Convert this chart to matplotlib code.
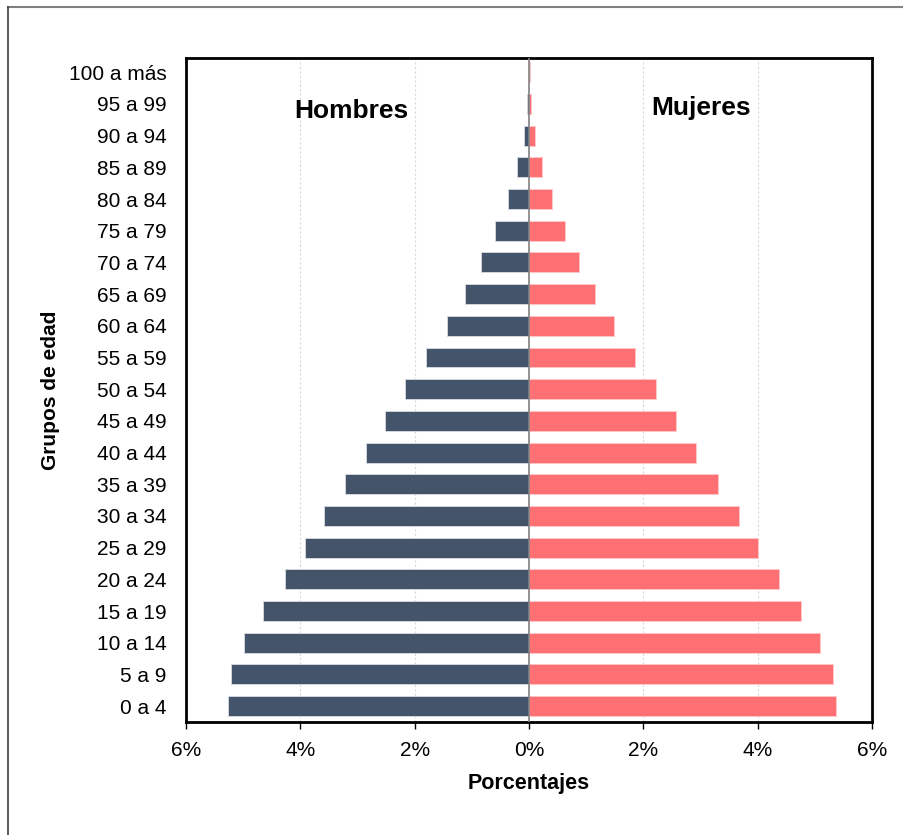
import numpy as np
import matplotlib.pyplot as plt
from matplotlib.lines import Line2D

plt.rcParams['font.family'] = ['Liberation Sans', 'DejaVu Sans']

grupos = ['0 a 4', '5 a 9', '10 a 14', '15 a 19', '20 a 24', '25 a 29', '30 a 34',
          '35 a 39', '40 a 44', '45 a 49', '50 a 54', '55 a 59', '60 a 64', '65 a 69',
          '70 a 74', '75 a 79', '80 a 84', '85 a 89', '90 a 94', '95 a 99', '100 a más']

# porcentajes (%)
hombres = [5.26, 5.21, 4.98, 4.65, 4.27, 3.92, 3.58, 3.22, 2.85, 2.52, 2.17,
           1.80, 1.43, 1.12, 0.84, 0.59, 0.37, 0.21, 0.09, 0.03, 0.005]
mujeres = [5.37, 5.31, 5.09, 4.76, 4.37, 4.00, 3.67, 3.30, 2.92, 2.57, 2.22,
           1.85, 1.49, 1.15, 0.87, 0.63, 0.40, 0.23, 0.10, 0.04, 0.01]

xticks = [-6, -4, -2, 0, 2, 4, 6]
xticklabels = ['6%', '4%', '2%', '0%', '2%', '4%', '6%']

fig = plt.figure(figsize=(9.04, 8.35), dpi=100)
ax = fig.add_axes([186 / 904, 113 / 835, 686 / 904, 664 / 835])

y = np.arange(len(grupos))
ax.barh(y, -np.array(hombres), height=0.63, color='#44546A', edgecolor='#D9DCE2', linewidth=0.6, zorder=3)
ax.barh(y, mujeres, height=0.63, color='#FF7074', edgecolor='#FFC8CA', linewidth=0.6, zorder=3)

ax.set_xlim(-6, 6)
ax.set_ylim(-0.5, 20.45)
ax.set_xticks(xticks)
ax.set_xticklabels(xticklabels, fontsize=15)
ax.set_yticks(y)
ax.set_yticklabels(grupos, fontsize=15)
ax.tick_params(axis='y', length=0, pad=14)
ax.tick_params(axis='x', direction='out', length=5, width=1, pad=9)

for x in [-4, -2, 2, 4]:
    ax.axvline(x, color='#D8D8D8', linestyle=(0, (2, 2)), linewidth=0.8, zorder=1)
ax.axvline(0, color='#808080', linewidth=1.2, zorder=4)

for s in ax.spines.values():
    s.set_linewidth(2)
    s.set_color('black')

ax.set_xlabel('Porcentajes', fontsize=15.5, fontweight='bold', labelpad=9)
ax.set_ylabel('Grupos de edad', fontsize=15, fontweight='bold', labelpad=6)

ax.text(-3.1, 18.56, 'Hombres', fontsize=19, fontweight='bold', ha='center', va='baseline')
ax.text(3.01, 18.65, 'Mujeres', fontsize=19, fontweight='bold', ha='center', va='baseline')

# marco exterior
fig.add_artist(Line2D([8 / 904, 1], [1 - 7 / 835, 1 - 7 / 835], color='#7F7F7F', linewidth=1.5))
fig.add_artist(Line2D([8 / 904, 8 / 904], [0, 1 - 7 / 835], color='#404040', linewidth=1.2))

fig.savefig('out.png', dpi=100)
